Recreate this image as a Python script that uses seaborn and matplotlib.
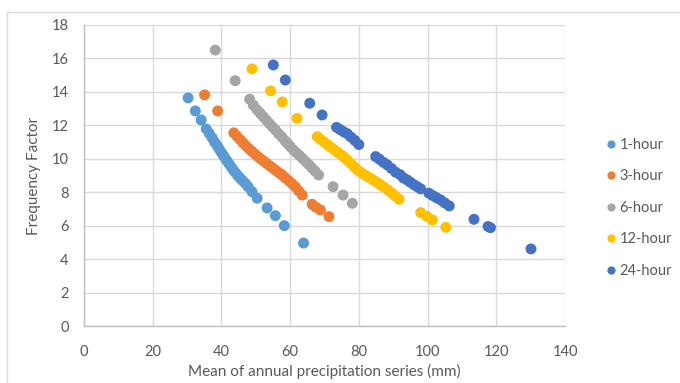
import numpy as np
import pandas as pd
import matplotlib
matplotlib.use("Agg")
import matplotlib.pyplot as plt
import seaborn as sns
from matplotlib.patches import Rectangle

series_names = ["1-hour", "3-hour", "6-hour", "12-hour", "24-hour"]
colors = ["#5B9BD5", "#ED7D31", "#A5A5A5", "#FFC000", "#4472C4"]

x_1h = [30.3, 32.4, 34.1, 35.6, 36.5, 37.3, 38.0, 38.7, 39.3, 39.9, 40.5, 41.1, 41.7, 42.3,
        42.9, 43.5, 44.1, 44.8, 45.5, 46.2, 47.0, 47.8, 48.9, 50.4, 53.3, 55.7, 58.3, 63.9]
y_1h = [13.64, 12.86, 12.32, 11.78, 11.50, 11.25, 11.00, 10.80, 10.60, 10.40, 10.22, 10.03, 9.85, 9.67,
        9.49, 9.32, 9.16, 8.99, 8.83, 8.68, 8.52, 8.32, 8.03, 7.64, 7.06, 6.60, 6.00, 4.96]

x_3h = [35.1, 38.9, 43.6, 44.5, 45.4, 46.3, 47.1, 47.9, 48.8, 49.7, 50.6, 51.5, 52.4, 53.3, 54.2,
        55.1, 56.0, 56.9, 57.7, 58.6, 59.5, 60.5, 61.5, 62.5, 63.5, 66.4, 67.5, 68.8, 71.3]
y_3h = [13.82, 12.86, 11.55, 11.35, 11.15, 10.95, 10.78, 10.62, 10.45, 10.29, 10.13, 9.98, 9.84, 9.70, 9.56,
        9.42, 9.28, 9.14, 9.02, 8.86, 8.70, 8.52, 8.33, 8.08, 7.83, 7.28, 7.10, 6.94, 6.54]

x_6h = [38.2, 44.0, 48.2, 49.3, 50.4, 51.3, 52.2, 53.1, 54.0, 54.9, 55.8, 56.7, 57.6, 58.5, 59.3,
        60.1, 61.0, 61.9, 62.8, 63.7, 64.6, 65.5, 66.4, 67.3, 68.3, 72.5, 75.4, 78.1]
y_6h = [16.50, 14.67, 13.56, 13.20, 12.92, 12.72, 12.51, 12.31, 12.10, 11.90, 11.70, 11.49, 11.29, 11.08, 10.90,
        10.72, 10.52, 10.34, 10.18, 10.00, 9.82, 9.64, 9.44, 9.25, 9.03, 8.33, 7.83, 7.34]

x_12h = [48.9, 54.3, 57.7, 62.0, 67.9, 68.9, 69.9, 70.9, 71.9, 72.9, 73.9, 74.8, 75.7, 76.7, 77.7,
         78.6, 79.5, 80.5, 81.5, 82.5, 83.4, 84.4, 85.4, 86.3, 87.3, 88.4, 89.5, 90.6, 91.7,
         98.0, 99.8, 101.4, 105.3]
y_12h = [15.38, 14.06, 13.40, 12.42, 11.32, 11.15, 11.00, 10.84, 10.68, 10.53, 10.38, 10.23, 10.10, 9.90, 9.72,
         9.52, 9.35, 9.20, 9.06, 8.94, 8.83, 8.70, 8.57, 8.44, 8.30, 8.14, 7.96, 7.77, 7.58,
         6.78, 6.55, 6.34, 5.90]

x_24h = [55.1, 58.6, 65.7, 69.3, 73.5, 74.5, 75.5, 76.6, 77.7, 78.8, 80.0, 84.9, 86.0, 87.2, 88.3,
         89.5, 90.7, 92.0, 93.0, 94.1, 95.0, 96.0, 97.0, 98.0, 100.4, 101.5, 102.6, 103.8, 105.0,
         106.3, 113.5, 117.6, 118.3, 130.1]
y_24h = [15.61, 14.71, 13.32, 12.62, 11.88, 11.75, 11.62, 11.50, 11.30, 11.10, 10.85, 10.13, 9.97, 9.78, 9.63,
         9.42, 9.20, 9.05, 8.85, 8.73, 8.60, 8.45, 8.33, 8.20, 7.94, 7.80, 7.67, 7.54, 7.36,
         7.18, 6.38, 5.95, 5.88, 4.61]

x_ticks = [0, 20, 40, 60, 80, 100, 120, 140]
y_ticks = [0, 2, 4, 6, 8, 10, 12, 14, 16, 18]

xs = [x_1h, x_3h, x_6h, x_12h, x_24h]
ys = [y_1h, y_3h, y_6h, y_12h, y_24h]
df = pd.concat([pd.DataFrame({"x": xv, "y": yv, "series": n}) for n, xv, yv in zip(series_names, xs, ys)],
               ignore_index=True)

sns.set_theme(style="white")
plt.rcParams["font.family"] = ["Lato", "DejaVu Sans"]

fig = plt.figure(figsize=(6.8, 3.83), dpi=100)
ax = fig.add_axes([84 / 680, 1 - 326 / 383, (565 - 84) / 680, (326 - 25) / 383])

sns.scatterplot(data=df, x="x", y="y", hue="series", hue_order=series_names, palette=colors,
                s=62, linewidth=0, ax=ax, zorder=3, legend=True)

ax.set_xlim(0, 140)
ax.set_ylim(0, 18)
ax.set_xticks(x_ticks)
ax.set_yticks(y_ticks)
ax.tick_params(axis="both", labelsize=10.5, labelcolor="#595959", length=0)
ax.tick_params(axis="x", pad=14)
ax.tick_params(axis="y", pad=11)
ax.grid(True, color="#D9D9D9", linewidth=1)
ax.set_axisbelow(True)
for side in ["top", "right"]:
    ax.spines[side].set_visible(False)
for side in ["left", "bottom"]:
    ax.spines[side].set_color("#BFBFBF")
    ax.spines[side].set_linewidth(1)
ax.set_xlabel("Mean of annual precipitation series (mm)", fontsize=11, color="#595959", labelpad=3)
ax.set_ylabel("Frequency Factor", fontsize=11, color="#595959", labelpad=8)

ax.get_legend().remove()
handles, labels = ax.get_legend_handles_labels()
leg = fig.legend(handles, labels, loc="center left", bbox_to_anchor=(0.882, 0.457),
                 frameon=False, fontsize=10.5, labelcolor="#595959", markerscale=0.75,
                 handlelength=0.6, handletextpad=0.25, labelspacing=1.2, borderpad=0)

fig.patches.append(Rectangle((7 / 680, -0.1), 1.0, 1 - 12 / 383 + 0.1, transform=fig.transFigure,
                             fill=False, edgecolor="#D9D9D9", linewidth=1))

fig.savefig("out.png", dpi=100)
